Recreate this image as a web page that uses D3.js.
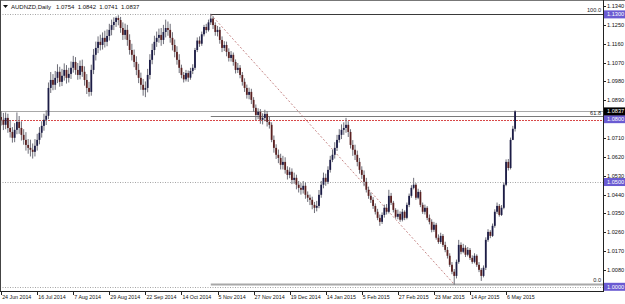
<!DOCTYPE html>
<html>
<head>
<meta charset="utf-8">
<script src="https://cdn.jsdelivr.net/npm/d3@7"></script>
<style>
  body { margin: 0; background: #fff; }
  svg { display: block; font-family: "Liberation Sans", Arial, sans-serif; }
</style>
</head>
<body>
<svg width="625" height="304"></svg>
<script>
// header of the chart window
const symbolTitle = 'AUDNZD,Daily';
const lastQuote = ['1.0754', '1.0842', '1.0741', '1.0837'];

// daily bars, one per trading day from 24 Jun 2014
const opens = [
  1.0810,1.0797,1.0773,1.0806,1.0758,1.0739,1.0711,1.0749,1.0787,1.0758,
  1.0725,1.0701,1.0677,1.0663,1.0654,1.0644,1.0673,1.0701,1.0735,1.0768,
  1.0797,1.0816,1.0949,1.0987,1.0964,1.0997,1.1026,1.0978,1.1007,1.1035,
  1.0997,1.1016,1.1045,1.1073,1.1035,1.1011,1.1054,1.1026,1.0987,1.0949,
  1.0930,1.1035,1.1107,1.1140,1.1169,1.1154,1.1188,1.1169,1.1197,1.1226,
  1.1249,1.1264,1.1283,1.1273,1.1235,1.1202,1.1226,1.1178,1.1130,1.1107,
  1.1073,1.1035,1.0997,1.0964,1.0940,1.0949,1.1011,1.1083,1.1130,1.1169,
  1.1188,1.1202,1.1178,1.1216,1.1235,1.1226,1.1188,1.1154,1.1121,1.1083,
  1.1045,1.1011,1.0990,1.1020,1.0998,1.1030,1.1045,1.1130,1.1175,1.1160,
  1.1205,1.1240,1.1225,1.1262,1.1280,1.1249,1.1216,1.1226,1.1178,1.1140,
  1.1154,1.1121,1.1092,1.1107,1.1073,1.1035,1.1045,1.1011,1.0978,1.0949,
  1.0916,1.0930,1.0892,1.0854,1.0820,1.0835,1.0797,1.0806,1.0825,1.0787,
  1.0773,1.0701,1.0663,1.0630,1.0615,1.0582,1.0596,1.0558,1.0534,1.0549,
  1.0510,1.0520,1.0487,1.0472,1.0463,1.0482,1.0439,1.0425,1.0415,1.0391,
  1.0377,1.0386,1.0439,1.0487,1.0520,1.0501,1.0558,1.0606,1.0630,1.0663,
  1.0701,1.0725,1.0749,1.0758,1.0773,1.0739,1.0677,1.0654,1.0630,1.0596,
  1.0558,1.0534,1.0501,1.0463,1.0434,1.0415,1.0386,1.0358,1.0329,1.0310,
  1.0343,1.0377,1.0358,1.0434,1.0401,1.0367,1.0334,1.0348,1.0320,1.0358,
  1.0329,1.0391,1.0434,1.0472,1.0487,1.0425,1.0453,1.0391,1.0358,1.0377,
  1.0329,1.0310,1.0272,1.0296,1.0234,1.0214,1.0243,1.0200,1.0176,1.0148,
  1.0105,1.0072,1.0052,1.0119,1.0200,1.0167,1.0186,1.0153,1.0176,1.0138,
  1.0119,1.0148,1.0105,1.0081,1.0052,1.0091,1.0224,1.0262,1.0243,1.0291,
  1.0358,1.0386,1.0343,1.0377,1.0487,1.0596,1.0567,1.0701,1.0754
];
const highs = [
  1.0838,1.0830,1.0832,1.0826,1.0795,1.0762,1.0781,1.0832,1.0815,1.0790,
  1.0752,1.0738,1.0705,1.0702,1.0684,1.0705,1.0730,1.0762,1.0790,1.0826,
  1.0842,1.0975,1.1025,1.1015,1.1030,1.1062,1.1050,1.1040,1.1066,1.1058,
  1.1045,1.1075,1.1102,1.1096,1.1068,1.1080,1.1084,1.1052,1.1015,1.0978,
  1.1060,1.1135,1.1170,1.1195,1.1203,1.1214,1.1222,1.1228,1.1255,1.1275,
  1.1286,1.1290,1.1296,1.1288,1.1262,1.1256,1.1250,1.1205,1.1160,1.1132,
  1.1100,1.1064,1.1022,1.0992,1.0980,1.1040,1.1110,1.1160,1.1198,1.1218,
  1.1232,1.1235,1.1250,1.1275,1.1266,1.1255,1.1215,1.1180,1.1148,1.1110,
  1.1060,1.1025,1.1035,1.1032,1.1045,1.1062,1.1140,1.1190,1.1195,1.1218,
  1.1250,1.1255,1.1275,1.1303,1.1292,1.1262,1.1245,1.1240,1.1195,1.1172,
  1.1170,1.1138,1.1125,1.1118,1.1085,1.1068,1.1058,1.1025,1.0995,1.0965,
  1.0950,1.0945,1.0905,1.0870,1.0852,1.0848,1.0828,1.0845,1.0838,1.0812,
  1.0785,1.0722,1.0680,1.0655,1.0635,1.0625,1.0618,1.0575,1.0570,1.0565,
  1.0545,1.0535,1.0505,1.0495,1.0505,1.0498,1.0455,1.0440,1.0430,1.0405,
  1.0410,1.0462,1.0505,1.0545,1.0540,1.0575,1.0625,1.0655,1.0690,1.0725,
  1.0752,1.0775,1.0785,1.0806,1.0790,1.0752,1.0700,1.0678,1.0650,1.0615,
  1.0575,1.0555,1.0520,1.0478,1.0450,1.0428,1.0398,1.0372,1.0345,1.0355,
  1.0392,1.0395,1.0463,1.0448,1.0410,1.0375,1.0368,1.0360,1.0372,1.0365,
  1.0402,1.0445,1.0485,1.0520,1.0495,1.0468,1.0462,1.0402,1.0392,1.0385,
  1.0345,1.0322,1.0310,1.0305,1.0250,1.0258,1.0252,1.0215,1.0190,1.0160,
  1.0118,1.0085,1.0130,1.0224,1.0212,1.0205,1.0198,1.0190,1.0185,1.0150,
  1.0160,1.0155,1.0118,1.0090,1.0102,1.0236,1.0275,1.0270,1.0302,1.0370,
  1.0402,1.0395,1.0390,1.0498,1.0608,1.0610,1.0712,1.0768,1.0842
];
const lows = [
  1.0770,1.0748,1.0752,1.0735,1.0712,1.0688,1.0690,1.0728,1.0730,1.0698,
  1.0678,1.0650,1.0635,1.0622,1.0612,1.0622,1.0650,1.0680,1.0712,1.0745,
  1.0772,1.0800,1.0925,1.0938,1.0940,1.0972,1.0955,1.0958,1.0984,1.0970,
  1.0975,1.0992,1.1022,1.1012,1.0988,1.0990,1.1002,1.0960,1.0920,1.0908,
  1.0912,1.1015,1.1080,1.1115,1.1128,1.1132,1.1142,1.1148,1.1175,1.1200,
  1.1225,1.1240,1.1248,1.1212,1.1178,1.1180,1.1150,1.1108,1.1080,1.1048,
  1.1010,1.0972,1.0940,1.0912,1.0905,1.0928,1.0990,1.1062,1.1105,1.1145,
  1.1165,1.1150,1.1158,1.1190,1.1198,1.1165,1.1128,1.1095,1.1060,1.1020,
  1.0995,1.0975,1.0980,1.0978,1.0988,1.1015,1.1035,1.1120,1.1145,1.1150,
  1.1195,1.1210,1.1218,1.1250,1.1230,1.1198,1.1195,1.1160,1.1120,1.1125,
  1.1100,1.1075,1.1075,1.1055,1.1018,1.1020,1.0995,1.0960,1.0930,1.0898,
  1.0895,1.0872,1.0835,1.0795,1.0800,1.0778,1.0775,1.0790,1.0765,1.0755,
  1.0690,1.0640,1.0610,1.0590,1.0560,1.0560,1.0540,1.0512,1.0518,1.0490,
  1.0492,1.0465,1.0450,1.0440,1.0445,1.0420,1.0405,1.0390,1.0370,1.0352,
  1.0360,1.0375,1.0425,1.0470,1.0482,1.0490,1.0545,1.0595,1.0612,1.0648,
  1.0688,1.0705,1.0725,1.0735,1.0715,1.0660,1.0625,1.0605,1.0575,1.0540,
  1.0515,1.0480,1.0450,1.0420,1.0400,1.0372,1.0345,1.0318,1.0291,1.0300,
  1.0330,1.0345,1.0350,1.0390,1.0355,1.0325,1.0322,1.0310,1.0312,1.0318,
  1.0322,1.0380,1.0425,1.0465,1.0415,1.0418,1.0380,1.0348,1.0345,1.0318,
  1.0298,1.0260,1.0262,1.0225,1.0205,1.0205,1.0190,1.0165,1.0135,1.0095,
  1.0060,1.0010,1.0040,1.0110,1.0155,1.0160,1.0142,1.0145,1.0128,1.0110,
  1.0112,1.0095,1.0070,1.0028,1.0045,1.0080,1.0215,1.0232,1.0238,1.0282,
  1.0348,1.0335,1.0338,1.0370,1.0480,1.0555,1.0560,1.0700,1.0741
];
const closes = [
  1.0797,1.0773,1.0806,1.0758,1.0739,1.0711,1.0749,1.0787,1.0758,1.0725,
  1.0701,1.0677,1.0663,1.0654,1.0644,1.0673,1.0701,1.0735,1.0768,1.0797,
  1.0816,1.0949,1.0987,1.0964,1.0997,1.1026,1.0978,1.1007,1.1035,1.0997,
  1.1016,1.1045,1.1073,1.1035,1.1011,1.1054,1.1026,1.0987,1.0949,1.0930,
  1.1035,1.1107,1.1140,1.1169,1.1154,1.1188,1.1169,1.1197,1.1226,1.1249,
  1.1264,1.1283,1.1273,1.1235,1.1202,1.1226,1.1178,1.1130,1.1107,1.1073,
  1.1035,1.0997,1.0964,1.0940,1.0949,1.1011,1.1083,1.1130,1.1169,1.1188,
  1.1202,1.1178,1.1216,1.1235,1.1226,1.1188,1.1154,1.1121,1.1083,1.1045,
  1.1011,1.0990,1.1020,1.0998,1.1030,1.1045,1.1130,1.1175,1.1160,1.1205,
  1.1240,1.1225,1.1262,1.1280,1.1249,1.1216,1.1226,1.1178,1.1140,1.1154,
  1.1121,1.1092,1.1107,1.1073,1.1035,1.1045,1.1011,1.0978,1.0949,1.0916,
  1.0930,1.0892,1.0854,1.0820,1.0835,1.0797,1.0806,1.0825,1.0787,1.0773,
  1.0701,1.0663,1.0630,1.0615,1.0582,1.0596,1.0558,1.0534,1.0549,1.0510,
  1.0520,1.0487,1.0472,1.0463,1.0482,1.0439,1.0425,1.0415,1.0391,1.0377,
  1.0386,1.0439,1.0487,1.0520,1.0501,1.0558,1.0606,1.0630,1.0663,1.0701,
  1.0725,1.0749,1.0758,1.0773,1.0739,1.0677,1.0654,1.0630,1.0596,1.0558,
  1.0534,1.0501,1.0463,1.0434,1.0415,1.0386,1.0358,1.0329,1.0310,1.0343,
  1.0377,1.0358,1.0434,1.0401,1.0367,1.0334,1.0348,1.0320,1.0358,1.0329,
  1.0391,1.0434,1.0472,1.0487,1.0425,1.0453,1.0391,1.0358,1.0377,1.0329,
  1.0310,1.0272,1.0296,1.0234,1.0214,1.0243,1.0200,1.0176,1.0148,1.0105,
  1.0072,1.0052,1.0119,1.0200,1.0167,1.0186,1.0153,1.0176,1.0138,1.0119,
  1.0148,1.0105,1.0081,1.0052,1.0091,1.0224,1.0262,1.0243,1.0291,1.0358,
  1.0386,1.0343,1.0377,1.0487,1.0596,1.0567,1.0701,1.0754,1.0837
];

// time axis labels and the bar they sit on
const dateLabels = ['24 Jun 2014', '16 Jul 2014', '7 Aug 2014', '29 Aug 2014', '22 Sep 2014',
  '14 Oct 2014', '5 Nov 2014', '27 Nov 2014', '19 Dec 2014', '14 Jan 2015', '5 Feb 2015',
  '27 Feb 2015', '23 Mar 2015', '14 Apr 2015', '6 May 2015'];
const dateBars = [0, 16, 32, 48, 64, 80, 96, 112, 128, 144, 160, 176, 192, 208, 224];

// price axis
const priceTicks = [1.1340, 1.1250, 1.1160, 1.1070, 1.0980, 1.0890, 1.0710, 1.0620,
  1.0530, 1.0440, 1.0350, 1.0260, 1.0170, 1.0080];

// objects drawn on the chart
const dottedLevels = [1.1300, 1.0500, 1.0000];
const redLevel = [1.0800];
const bidLevel = 1.0837;
const fiboBars = [93, 201];
const fiboPrices = [1.1300, 1.0012];
const fiboRatios = [100.0, 61.8, 0.0];

const plotRight = 603;
const plotBottom = 291;
const fontSize = 5.6;

let svg = d3.select('svg');

svg.append('rect')
  .attr('width', 625)
  .attr('height', 304)
  .attr('fill', '#fff');

const xScale = d3.scaleLinear()
  .domain([-0.5, 267])
  .range([0, plotRight]);

const yScale = d3.scaleLinear()
  .domain([1.0000, 1.1340])
  .range([286.8, 6]);

const yPix = p => Math.round(yScale(p)) + 0.5;

const bars = closes.map((c, i) => ({ i: i, o: opens[i], h: highs[i], l: lows[i], c: c }));

svg.append('clipPath')
  .attr('id', 'plot')
  .append('rect')
  .attr('x', 0).attr('y', 0)
  .attr('width', plotRight).attr('height', plotBottom);

let plot = svg.append('g').attr('clip-path', 'url(#plot)');

// dotted horizontal lines
plot.selectAll('.dotted')
  .data(dottedLevels)
  .enter()
  .append('line')
  .attr('x1', 0)
  .attr('x2', plotRight)
  .attr('y1', d => yPix(d))
  .attr('y2', d => yPix(d))
  .attr('stroke', '#a5a5a5')
  .attr('stroke-dasharray', '1,1.5');

// bid line
plot.append('line')
  .attr('x1', 0)
  .attr('x2', plotRight)
  .attr('y1', yPix(bidLevel))
  .attr('y2', yPix(bidLevel))
  .attr('stroke', '#a8a8a8');

// fibonacci levels
const fiboLevel = r => fiboPrices[1] + (fiboPrices[0] - fiboPrices[1]) * r / 100;
const fiboX = xScale(fiboBars[0]);

plot.selectAll('.fibo')
  .data(fiboRatios)
  .enter()
  .append('line')
  .attr('x1', fiboX)
  .attr('x2', plotRight)
  .attr('y1', d => yPix(fiboLevel(d)) - (d === 61.8 ? 1 : 0))
  .attr('y2', d => yPix(fiboLevel(d)) - (d === 61.8 ? 1 : 0))
  .attr('stroke', d => d === 100 ? '#3a3a3a' : d === 0 ? '#a8a8a8' : '#7a7a7a')
  .attr('stroke-width', d => d === 0 ? 2 : 1);

// red alert line
plot.selectAll('.red')
  .data(redLevel)
  .enter()
  .append('line')
  .attr('x1', 0)
  .attr('x2', plotRight)
  .attr('y1', d => yPix(d) + 1)
  .attr('y2', d => yPix(d) + 1)
  .attr('stroke', '#d84848')
  .attr('stroke-width', 1.2)
  .attr('stroke-dasharray', '2,1');

// fibo trend line
plot.append('line')
  .attr('x1', xScale(fiboBars[0]))
  .attr('y1', yScale(fiboPrices[0]))
  .attr('x2', xScale(fiboBars[1]))
  .attr('y2', yScale(fiboPrices[1]))
  .attr('stroke', '#b86a6a')
  .attr('stroke-width', 0.8)
  .attr('stroke-dasharray', '2,2');

plot.selectAll('.fibolabel')
  .data(fiboRatios)
  .enter()
  .append('text')
  .attr('x', plotRight - 2)
  .attr('y', d => yScale(fiboLevel(d)) - 2)
  .attr('text-anchor', 'end')
  .attr('font-size', fontSize)
  .attr('fill', '#222')
  .text(d => d.toFixed(1));

// candles
const bullColor = '#1c1c46';
const bearColor = '#5a2020';

let candle = plot.selectAll('.candle')
  .data(bars)
  .enter()
  .append('g');

candle.append('line')
  .attr('x1', d => xScale(d.i))
  .attr('x2', d => xScale(d.i))
  .attr('y1', d => yScale(d.h))
  .attr('y2', d => yScale(d.l))
  .attr('stroke', '#6e6e78')
  .attr('stroke-width', 1);

candle.append('rect')
  .attr('x', d => xScale(d.i) - 0.9)
  .attr('width', 1.8)
  .attr('y', d => yScale(Math.max(d.o, d.c)))
  .attr('height', d => Math.max(1, Math.abs(yScale(d.o) - yScale(d.c))))
  .attr('fill', d => d.c >= d.o ? bullColor : bearColor);

// frame and axes
svg.append('line')
  .attr('x1', 0).attr('x2', 625)
  .attr('y1', 0.5).attr('y2', 0.5)
  .attr('stroke', '#777');

svg.append('line')
  .attr('x1', 0.5).attr('x2', 0.5)
  .attr('y1', 0).attr('y2', plotBottom)
  .attr('stroke', '#444');

svg.append('line')
  .attr('x1', plotRight + 0.5).attr('x2', plotRight + 0.5)
  .attr('y1', 0).attr('y2', plotBottom)
  .attr('stroke', '#222');

svg.append('line')
  .attr('x1', 0).attr('x2', plotRight + 1)
  .attr('y1', plotBottom + 0.5).attr('y2', plotBottom + 0.5)
  .attr('stroke', '#222');

// price ticks
let yAxis = svg.append('g');

yAxis.selectAll('line')
  .data(priceTicks)
  .enter()
  .append('line')
  .attr('x1', plotRight)
  .attr('x2', plotRight + 3)
  .attr('y1', d => yPix(d))
  .attr('y2', d => yPix(d))
  .attr('stroke', '#222');

yAxis.selectAll('text')
  .data(priceTicks)
  .enter()
  .append('text')
  .attr('x', plotRight + 4)
  .attr('y', d => yScale(d) + 2)
  .attr('font-size', fontSize)
  .attr('fill', '#111')
  .text(d => d.toFixed(4));

// price tags for the lines
const tags = dottedLevels.concat(redLevel).map(p => ({ p: p, color: '#6a5bd2' }))
  .concat([{ p: bidLevel, color: '#000' }]);

let tag = svg.append('g').selectAll('g')
  .data(tags)
  .enter()
  .append('g');

tag.append('rect')
  .attr('x', plotRight + 1)
  .attr('y', d => yScale(d.p) - 4)
  .attr('width', 22)
  .attr('height', 8)
  .attr('fill', d => d.color);

tag.append('text')
  .attr('x', plotRight + 4)
  .attr('y', d => yScale(d.p) + 2)
  .attr('font-size', fontSize)
  .attr('fill', '#fff')
  .text(d => d.p.toFixed(4));

// date ticks
let xAxis = svg.append('g');

xAxis.selectAll('line')
  .data(dateBars)
  .enter()
  .append('line')
  .attr('x1', d => Math.round(xScale(d)) + 0.5)
  .attr('x2', d => Math.round(xScale(d)) + 0.5)
  .attr('y1', plotBottom)
  .attr('y2', plotBottom + 4)
  .attr('stroke', '#222');

xAxis.selectAll('text')
  .data(dateBars)
  .enter()
  .append('text')
  .attr('x', d => xScale(d) + 1)
  .attr('y', plotBottom + 8)
  .attr('font-size', 5.3)
  .attr('fill', '#111')
  .text((d, i) => dateLabels[i]);

// header
svg.append('path')
  .attr('d', 'M3,5 L8,5 L5.5,8 Z')
  .attr('fill', '#111');

svg.append('text')
  .attr('x', 11)
  .attr('y', 9)
  .attr('font-size', 6)
  .attr('fill', '#111')
  .attr('xml:space', 'preserve')
  .text(symbolTitle + '   ' + lastQuote.join('  '));
</script>
</body>
</html>
